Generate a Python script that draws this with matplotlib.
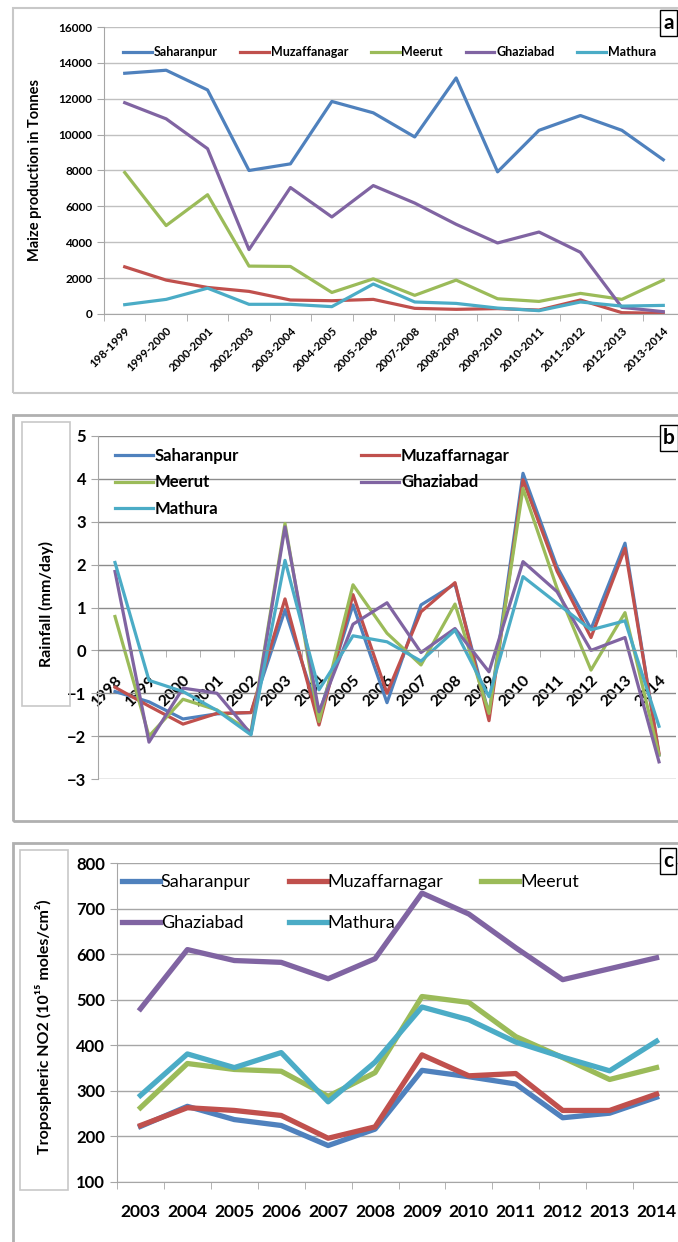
import matplotlib.pyplot as plt
from matplotlib.patches import Rectangle
import numpy as np

plt.rcParams['font.family'] = ['Lato', 'DejaVu Sans']

# (a) maize production in tonnes, by season
seasons = ["198-1999", "1999-2000", "2000-2001", "2002-2003", "2003-2004", "2004-2005", "2005-2006",
           "2007-2008", "2008-2009", "2009-2010", "2010-2011", "2011-2012", "2012-2013", "2013-2014"]
maize_saharanpur = [13420, 13590, 12490, 8000, 8370, 11850, 11215, 9870, 13160, 7925, 10240, 11065, 10240, 8600]
maize_muzaffanagar = [2630, 1890, 1480, 1260, 780, 740, 815, 315, 260, 300, 220, 780, 75, 40]
maize_meerut = [7890, 4930, 6650, 2670, 2650, 1200, 1960, 1040, 1890, 850, 700, 1150, 815, 1890]
maize_ghaziabad = [11780, 10880, 9215, 3590, 7050, 5410, 7160, 6185, 5000, 3960, 4570, 3440, 370, 130]
maize_mathura = [520, 815, 1440, 540, 540, 410, 1670, 670, 590, 330, 185, 670, 440, 480]

# (b) rainfall anomaly, mm/day
rain_years = [str(y) for y in range(1998, 2015)]
rain_saharanpur = [-0.96, -1.2, -1.6, -1.48, -1.45, 0.94, -1.5, 1.06, -1.22, 1.06, 1.55, -1.5, 4.13, 1.95, 0.5, 2.5, -2.44]
rain_muzaffarnagar = [-0.86, -1.3, -1.72, -1.47, -1.45, 1.2, -1.74, 1.3, -1.0, 0.9, 1.58, -1.64, 3.98, 1.85, 0.3, 2.38, -2.4]
rain_meerut = [0.79, -2.0, -1.14, -1.39, -1.9, 2.96, -1.66, 1.53, 0.4, -0.34, 1.08, -1.47, 3.78, 1.45, -0.46, 0.88, -2.44]
rain_ghaziabad = [1.84, -2.14, -0.88, -1.0, -1.95, 2.88, -1.43, 0.61, 1.11, -0.05, 0.51, -0.5, 2.07, 1.37, 0.0, 0.3, -2.6]
rain_mathura = [2.05, -0.7, -0.96, -1.4, -1.97, 2.1, -0.92, 0.34, 0.2, -0.25, 0.47, -1.08, 1.72, 1.1, 0.48, 0.69, -1.77]

# (c) tropospheric NO2, 10^15 molecules/cm2
no2_years = [str(y) for y in range(2003, 2015)]
no2_saharanpur = [222, 266, 237, 224, 180, 216, 345, 331, 315, 241, 251, 286]
no2_muzaffarnagar = [224, 263, 257, 246, 196, 221, 379, 333, 338, 257, 257, 293]
no2_meerut = [263, 360, 347, 343, 288, 340, 507, 494, 419, 373, 325, 351]
no2_ghaziabad = [480, 610, 586, 582, 546, 590, 734, 688, 614, 544, 568, 592]
no2_mathura = [290, 381, 351, 384, 276, 363, 484, 456, 407, 374, 344, 409]

colors = ['#4F81BD', '#C0504D', '#9BBB59', '#8064A2', '#4BACC6']

W, H = 678, 1242
fig = plt.figure(figsize=(W / 100, H / 100), dpi=100)


def px_axes(left, top, right, bottom):
    return fig.add_axes([left / W, 1 - bottom / H, (right - left) / W, (bottom - top) / H])


def px_rect(left, top, right, bottom, ec, lw):
    fig.patches.append(Rectangle((left / W, 1 - bottom / H), (right - left) / W, (bottom - top) / H,
                                 transform=fig.transFigure, fill=False, ec=ec, lw=lw))


def fx(x):
    return x / W


def fy(y):
    return 1 - y / H


def base_style(ax, n, grid_color):
    ax.spines['top'].set_visible(False)
    ax.spines['right'].set_visible(False)
    ax.spines['left'].set_color('#a6a6a6')
    ax.spines['bottom'].set_color('#a6a6a6')
    ax.yaxis.grid(True, color=grid_color, lw=1)
    ax.set_axisbelow(True)
    ax.set_xlim(-0.5, n - 0.5)
    ax.set_xticks(range(n))
    ax.set_xticks(np.arange(n + 1) - 0.5, minor=True)
    ax.tick_params(axis='x', which='major', length=0)
    ax.tick_params(axis='x', which='minor', length=5, color='#a6a6a6', direction='out')
    ax.tick_params(axis='y', length=5, color='#a6a6a6', direction='out')


# outer frames and panel letters
px_rect(13, 8, 700, 393, '#c8c8c8', 1.5)
px_rect(13, 415, 700, 821, '#b0b0b0', 2)
px_rect(13, 843, 700, 1280, '#b0b0b0', 2)
px_rect(22, 422, 70, 706, '#c8c8c8', 1.2)
px_rect(20, 850, 68, 1190, '#c8c8c8', 1.2)
for letter, top in [('a', 10), ('b', 425), ('c', 848)]:
    fig.text(fx(663), fy(top + 13), letter, fontsize=15, fontweight='bold', va='center', ha='left',
             bbox=dict(boxstyle='square,pad=0.15', fc='white', ec='black', lw=1))

# ---- (a) ----
ax_a = px_axes(104, 27, 684, 314)
series_a = [maize_saharanpur, maize_muzaffanagar, maize_meerut, maize_ghaziabad, maize_mathura]
names_a = ['Saharanpur', 'Muzaffanagar', 'Meerut', 'Ghaziabad', 'Mathura']
for vals, name, c in zip(series_a, names_a, colors):
    ax_a.plot(range(len(seasons)), vals, color=c, lw=2.3, label=name)
base_style(ax_a, len(seasons), '#c0c0c0')
ax_a.set_ylim(0, 16000)
ax_a.set_yticks(range(0, 16001, 2000))
ax_a.set_xticklabels(seasons, rotation=45, ha='right', va='top', rotation_mode='anchor',
                     fontsize=8.3, fontweight='bold')
ax_a.tick_params(axis='x', which='major', pad=8)
ax_a.tick_params(axis='y', labelsize=8.5)
for t in ax_a.get_yticklabels():
    t.set_fontweight('bold')
fig.text(fx(35), fy(170), 'Maize production in Tonnes', rotation=90, fontsize=10.5,
         fontweight='bold', ha='center', va='center')
ax_a.legend(loc='upper left', bbox_to_anchor=(fx(123), fy(46)), bbox_transform=fig.transFigure,
            ncol=5, frameon=False, borderpad=0, borderaxespad=0, handlelength=2.3,
            handletextpad=0.15, columnspacing=1.8, prop={'size': 9, 'weight': 'bold'})

# ---- (b) ----
ax_b = px_axes(98, 436, 676, 779)
series_b = [rain_saharanpur, rain_muzaffarnagar, rain_meerut, rain_ghaziabad, rain_mathura]
names_b = ['Saharanpur', 'Muzaffarnagar', 'Meerut', 'Ghaziabad', 'Mathura']
lines_b = []
for vals, name, c in zip(series_b, names_b, colors):
    ln, = ax_b.plot(range(len(rain_years)), vals, color=c, lw=2.3, label=name)
    lines_b.append(ln)
base_style(ax_b, len(rain_years), '#8c8c8c')
ax_b.spines['bottom'].set_position(('data', 0))
ax_b.spines['bottom'].set_color('#8c8c8c')
ax_b.set_ylim(-3, 5)
ax_b.set_yticks(range(-3, 6))
ax_b.set_xticklabels(rain_years, rotation=45, ha='right', va='top', rotation_mode='anchor',
                     fontsize=11.5, fontweight='bold')
ax_b.tick_params(axis='x', which='major', pad=16)
ax_b.tick_params(axis='y', labelsize=12)
for t in ax_b.get_yticklabels():
    t.set_fontweight('bold')
fig.text(fx(46), fy(604), 'Rainfall (mm/day)', rotation=90, fontsize=11.5,
         fontweight='bold', ha='center', va='center')
order_b = [0, 2, 4, 1, 3]
ax_b.legend([lines_b[i] for i in order_b], [names_b[i] for i in order_b],
            loc='upper left', bbox_to_anchor=(fx(115), fy(448)), bbox_transform=fig.transFigure,
            ncol=2, frameon=False, borderpad=0, borderaxespad=0, handlelength=2.3,
            handletextpad=0.1, columnspacing=7.3, labelspacing=0.62,
            prop={'size': 12, 'weight': 'bold'})

# ---- (c) ----
ax_c = px_axes(117, 863, 680, 1182)
series_c = [no2_saharanpur, no2_muzaffarnagar, no2_meerut, no2_ghaziabad, no2_mathura]
lines_c = []
for vals, name, c in zip(series_c, names_b, colors):
    ln, = ax_c.plot(range(len(no2_years)), vals, color=c, lw=3.8, label=name)
    lines_c.append(ln)
base_style(ax_c, len(no2_years), '#a6a6a6')
ax_c.set_ylim(100, 800)
ax_c.set_yticks(range(100, 801, 100))
ax_c.set_xticklabels(no2_years, fontsize=12.5, fontweight='bold')
ax_c.tick_params(axis='x', which='major', pad=16)
ax_c.tick_params(axis='y', labelsize=12)
for t in ax_c.get_yticklabels():
    t.set_fontweight('bold')
fig.text(fx(44), fy(1027), 'Tropospheric NO2 (10\u00b9\u2075 moles/cm\u00b2)', rotation=90, fontsize=11.5,
         fontweight='bold', ha='center', va='center')
order_c = [0, 3, 1, 4, 2]
ax_c.legend([lines_c[i] for i in order_c], [names_b[i] for i in order_c],
            loc='upper left', bbox_to_anchor=(fx(122), fy(874)), bbox_transform=fig.transFigure,
            ncol=3, frameon=False, borderpad=0, borderaxespad=0, handlelength=2.1,
            handletextpad=0.05, columnspacing=2.1, labelspacing=1.4,
            prop={'size': 13})

fig.savefig('out.png', dpi=100)
